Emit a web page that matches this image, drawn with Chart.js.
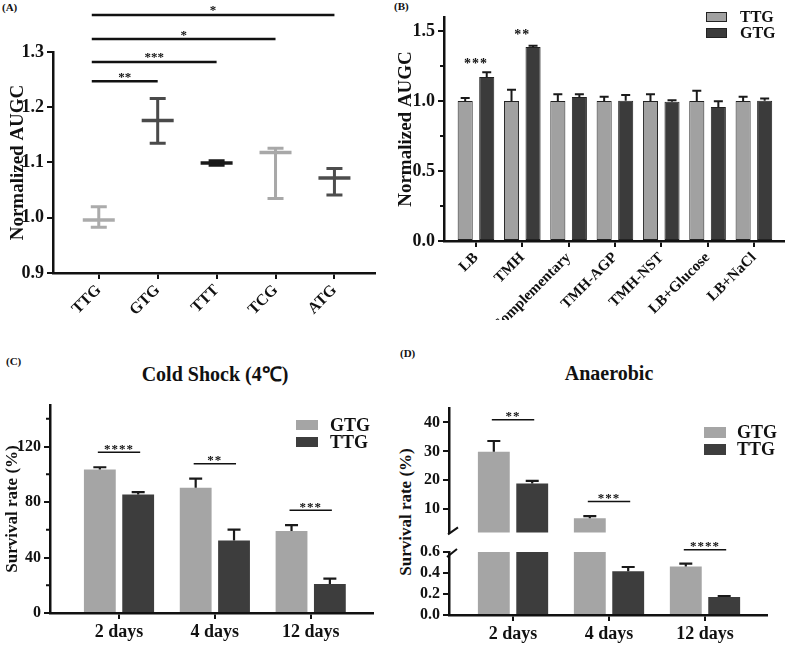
<!DOCTYPE html>
<html>
<head>
<meta charset="utf-8">
<title>AUGC and survival</title>
<script src="https://cdn.jsdelivr.net/npm/chart.js@4.4.1/dist/chart.umd.min.js"></script>
<style>
  body { margin: 0; background: #fff; }
  #page { position: relative; width: 788px; height: 648px; overflow: hidden;
          font-family: 'Liberation Serif', 'Times New Roman', serif; font-weight: bold; color: #111; }
  #page canvas { position: absolute; }
  .tag { position: absolute; font-size: 11px; }
  .head { position: absolute; font-size: 20px; transform: translate(-50%, -50%); white-space: nowrap; }
  .side { position: absolute; font-size: 17px; transform: translate(-50%, -50%) rotate(-90deg); white-space: nowrap; }
</style>
</head>
<body>
<div id="page">
  <div class="tag" style="left:2px;top:1px">(A)</div>
  <div class="tag" style="left:394px;top:0px">(B)</div>
  <div class="tag" style="left:6px;top:355px">(C)</div>
  <div class="tag" style="left:400px;top:347px">(D)</div>
  <div class="head" style="left:215px;top:373px">Cold Shock (4℃)</div>
  <div class="head" style="left:609px;top:373px">Anaerobic</div>
  <div class="side" style="left:406px;top:512px">Survival rate (%)</div>

  <canvas id="chartA" width="394" height="320" style="left:0;top:0"></canvas>
  <canvas id="chartB" width="394" height="320" style="left:394px;top:0"></canvas>
  <canvas id="chartC" width="394" height="308" style="left:0;top:340px"></canvas>
  <canvas id="chartDup" width="394" height="205" style="left:394px;top:340px"></canvas>
  <canvas id="chartDlow" width="394" height="118" style="left:394px;top:530px"></canvas>
</div>
<script>
// ---------- data ----------
// (A) start codons, mean with range
var codonsA = ['TTG', 'GTG', 'TTT', 'TCG', 'ATG'];
var meanA = [0.996, 1.176, 1.099, 1.118, 1.072];
var lowA = [0.983, 1.135, 1.095, 1.035, 1.041];
var highA = [1.020, 1.216, 1.103, 1.126, 1.089];
var ticksA = [0.9, 1.0, 1.1, 1.2, 1.3];
var sigA = [
  { from: 1, to: 2, y: 1.247, text: '**' },
  { from: 1, to: 3, y: 1.282, text: '***' },
  { from: 1, to: 4, y: 1.3235, text: '*' },
  { from: 1, to: 5, y: 1.367, text: '*' }
];

// (B) media
var mediaB = ['LB', 'TMH', 'Complementary', 'TMH-AGP', 'TMH-NST', 'LB+Glucose', 'LB+NaCl'];
var ttgB = [1.0, 1.0, 1.0, 1.0, 1.0, 1.0, 1.0];
var ttgErrB = [0.021, 0.08, 0.048, 0.03, 0.048, 0.074, 0.03];
var gtgB = [1.172, 1.385, 1.029, 1.002, 0.995, 0.957, 1.002];
var gtgErrB = [0.034, 0.01, 0.019, 0.041, 0.01, 0.041, 0.015];
var ticksB = [0, 0.5, 1.0, 1.5];
var sigB = [
  { cat: 1, y: 1.285, text: '***' },
  { cat: 2, y: 1.495, text: '**' }
];

// (C) cold shock
var daysC = ['2 days', '4 days', '12 days'];
var gtgC = [103.4, 90.4, 59.2];
var gtgErrC = [1.7, 6.5, 4.1];
var ttgC = [85.4, 52.2, 20.9];
var ttgErrC = [1.7, 7.9, 3.9];
var ticksC = [0, 40, 80, 120];
var sigC = [
  { cat: 1, y: 115.9, text: '****' },
  { cat: 2, y: 107.7, text: '**' },
  { cat: 3, y: 74.1, text: '***' }
];

// (D) anaerobic, broken axis
var daysD = ['2 days', '4 days', '12 days'];
var gtgD = [29.9, 6.9, 0.463];
var gtgErrD = [3.7, 0.7, 0.026];
var ttgD = [18.9, 0.416, 0.171];
var ttgErrD = [0.9, 0.041, 0.010];
var ticksDup = [10, 20, 30, 40];
var ticksDlow = [0, 0.2, 0.4, 0.6];
var sigDup = [
  { cat: 1, y: 40.9, text: '**' },
  { cat: 2, y: 12.7, text: '***' }
];
var sigDlow = [
  { cat: 3, y: 0.622, text: '****' }
];

// ---------- look ----------
var INK = '#111';
var SERIF = "'Liberation Serif', 'Times New Roman', serif";
var shadeA = ['#ababab', '#4a4a4a', '#1a1a1a', '#a8a8a8', '#4d4d4d'];

Chart.defaults.font.family = SERIF;
Chart.defaults.font.weight = 'bold';
Chart.defaults.color = INK;
Chart.defaults.animation = false;
Chart.defaults.events = [];
Chart.defaults.plugins.legend.display = false;
Chart.defaults.plugins.tooltip.enabled = false;

function pts(vals) {
  return vals.map(function (v, i) { return { x: i + 1, y: v }; });
}
function plus(vals, errs) {
  return vals.map(function (v, i) { return v + errs[i]; });
}
function bold(size) {
  return { family: SERIF, size: size, weight: 'bold' };
}

function yScale(o) {
  return {
    type: 'linear', min: o.min, max: o.max,
    afterFit: function (s) { s.width = o.width; },
    afterBuildTicks: function (s) { s.ticks = o.ticks.map(function (v) { return { value: v }; }); },
    ticks: { font: bold(o.size), color: INK, padding: 3, autoSkip: false,
      callback: function (v) { return o.digits == null ? v : v.toFixed(o.digits); } },
    grid: { drawOnChartArea: false, tickLength: 6, color: INK, lineWidth: 2 },
    border: { color: INK, width: 2.5 },
    title: o.title
      ? { display: true, text: o.title, color: INK, font: bold(o.titleSize), padding: { top: o.titlePad, bottom: 0 } }
      : { display: false }
  };
}

function xScale(o) {
  return {
    type: 'linear', min: o.min, max: o.max, offset: false, display: o.display !== false,
    afterFit: function (s) { s.height = o.height; },
    afterBuildTicks: function (s) { s.ticks = o.labels.map(function (_, i) { return { value: i + 1 }; }); },
    ticks: { font: bold(o.size), color: INK, autoSkip: false, padding: o.pad,
      minRotation: o.rot, maxRotation: o.rot,
      callback: function (v, i) { return o.labels[i]; } },
    grid: { drawOnChartArea: false, offset: false, tickLength: 6, color: INK, lineWidth: 2 },
    border: { color: INK, width: 2.5 }
  };
}

// ---------- plugins ----------
var errorBars = {
  id: 'errorBars',
  afterDatasetsDraw: function (chart, args, o) {
    var ctx = chart.ctx, ys = chart.scales.y;
    ctx.save();
    ctx.lineWidth = o.width || 2;
    chart.data.datasets.forEach(function (ds, di) {
      if (!ds.hi) return;
      chart.getDatasetMeta(di).data.forEach(function (el, i) {
        var v = ds.data[i].y, top = ds.hi[i], bot = ds.lo ? ds.lo[i] : v;
        if (top < ys.min || bot > ys.max) return;
        var yt = ys.getPixelForValue(Math.min(top, ys.max));
        var yb = ys.getPixelForValue(Math.max(bot, ys.min));
        var c = ds.errColor ? (Array.isArray(ds.errColor) ? ds.errColor[i] : ds.errColor) : (o.color || INK);
        var h = (o.cap || 10) / 2;
        ctx.strokeStyle = c;
        ctx.beginPath();
        ctx.moveTo(el.x, yb); ctx.lineTo(el.x, yt);
        if (top <= ys.max) { ctx.moveTo(el.x - h, yt); ctx.lineTo(el.x + h, yt); }
        if (ds.lo && bot >= ys.min) { ctx.moveTo(el.x - h, yb); ctx.lineTo(el.x + h, yb); }
        ctx.stroke();
      });
    });
    ctx.restore();
  }
};

var sigLines = {
  id: 'sigLines',
  afterDraw: function (chart, args, o) {
    if (!o.items) return;
    var ctx = chart.ctx, xs = chart.scales.x, ys = chart.scales.y;
    var m0 = chart.getDatasetMeta(0);
    var m1 = chart.data.datasets.length > 1 ? chart.getDatasetMeta(1) : null;
    ctx.save();
    ctx.strokeStyle = INK; ctx.fillStyle = INK; ctx.lineWidth = o.lw || 1.5;
    ctx.font = 'bold ' + o.size + 'px ' + SERIF;
    ctx.textAlign = 'center'; ctx.textBaseline = 'alphabetic';
    if (o.spacing) ctx.letterSpacing = o.spacing;
    o.items.forEach(function (s) {
      var y = ys.getPixelForValue(s.y), x1, x2;
      if (o.mode === 'span') {
        x1 = xs.getPixelForValue(s.from) - o.lead; x2 = xs.getPixelForValue(s.to);
      } else if (o.mode === 'pair') {
        x1 = m0.data[s.cat - 1].x - o.ext; x2 = m1.data[s.cat - 1].x + o.ext;
      } else {
        x1 = x2 = xs.getPixelForValue(s.cat);
      }
      if (x2 > x1) { ctx.beginPath(); ctx.moveTo(x1, y); ctx.lineTo(x2, y); ctx.stroke(); }
      ctx.fillText(s.text, (x1 + x2) / 2, y - o.off + o.size * 0.5);
    });
    ctx.restore();
  }
};

var minorTicks = {
  id: 'minorTicks',
  afterDraw: function (chart, args, o) {
    if (!o.step) return;
    var ctx = chart.ctx, ys = chart.scales.y, x = chart.chartArea.left;
    var major = ys.ticks.map(function (t) { return t.value; });
    ctx.save(); ctx.strokeStyle = INK; ctx.lineWidth = 2; ctx.beginPath();
    for (var k = 1; ys.min + k * o.step <= ys.max + 1e-9; k++) {
      var v = ys.min + k * o.step;
      if (major.some(function (m) { return Math.abs(m - v) < 1e-9; })) continue;
      var y = ys.getPixelForValue(v);
      ctx.moveTo(x, y); ctx.lineTo(x - o.len, y);
    }
    ctx.stroke(); ctx.restore();
  }
};

var boxLegend = {
  id: 'boxLegend',
  afterDraw: function (chart, args, o) {
    if (o.dx == null) return;
    var ctx = chart.ctx, ca = chart.chartArea;
    ctx.save();
    ctx.font = 'bold ' + o.size + 'px ' + SERIF;
    ctx.textBaseline = 'middle'; ctx.textAlign = 'left';
    chart.data.datasets.forEach(function (ds, i) {
      var x = ca.right + o.dx, y = ca.top + o.dy + i * o.row;
      ctx.fillStyle = ds.backgroundColor;
      ctx.fillRect(x, y, o.w, o.h);
      if (o.border) {
        ctx.strokeStyle = '#222'; ctx.lineWidth = 1;
        ctx.strokeRect(x + 0.5, y + 0.5, o.w - 1, o.h - 1);
      }
      ctx.fillStyle = INK;
      ctx.fillText(ds.label, x + o.w + o.tx, y + o.h / 2 + 1);
    });
    ctx.restore();
  }
};

var breakMark = {
  id: 'breakMark',
  afterDraw: function (chart, args, o) {
    if (!o.edge) return;
    var ctx = chart.ctx, ca = chart.chartArea;
    var y = o.edge === 'bottom' ? ca.bottom : ca.top;
    ctx.save(); ctx.strokeStyle = INK; ctx.lineWidth = 2; ctx.beginPath();
    if (o.edge === 'bottom') { ctx.moveTo(ca.left - 1, y + 2); ctx.lineTo(ca.left + 9, y - 5); }
    else { ctx.moveTo(ca.left - 2, y + 5); ctx.lineTo(ca.left + 8, y - 3); }
    ctx.stroke(); ctx.restore();
  }
};

Chart.register(errorBars, sigLines, minorTicks, boxLegend, breakMark);

// ---------- (A) ----------
new Chart(document.getElementById('chartA'), {
  type: 'scatter',
  data: {
    datasets: [{
      data: pts(meanA),
      hi: highA, lo: lowA, errColor: shadeA,
      pointStyle: 'line', pointRadius: 16, pointBorderWidth: 3.5,
      pointBorderColor: shadeA, pointBackgroundColor: shadeA
    }]
  },
  options: {
    responsive: false,
    layout: { padding: { left: 0, top: 52, right: 4, bottom: 0 } },
    scales: {
      x: xScale({ labels: codonsA, min: 0.223, max: 5.68, height: 47, size: 16, rot: 45, pad: 2 }),
      y: yScale({ min: 0.9, max: 1.3, ticks: ticksA, digits: 1, width: 53, size: 18,
                  title: 'Normalized AUGC', titleSize: 19, titlePad: 7 })
    },
    plugins: {
      errorBars: { cap: 16, width: 3 },
      sigLines: { items: sigA, mode: 'span', lead: 7, lw: 2.5, size: 13, off: 7 }
    }
  }
});

// ---------- (B) ----------
new Chart(document.getElementById('chartB'), {
  type: 'bar',
  data: {
    datasets: [
      { label: 'TTG', data: pts(ttgB), hi: plus(ttgB, ttgErrB),
        backgroundColor: '#a1a1a1', borderColor: '#222', borderWidth: 1, borderSkipped: false },
      { label: 'GTG', data: pts(gtgB), hi: plus(gtgB, gtgErrB),
        backgroundColor: '#3b3b3b', borderColor: '#222', borderWidth: 1, borderSkipped: false }
    ]
  },
  options: {
    responsive: false,
    datasets: { bar: { categoryPercentage: 0.93, barPercentage: 0.70, clip: 0 } },
    layout: { padding: { left: 0, top: 17, right: 4, bottom: 0 } },
    scales: {
      x: xScale({ labels: mediaB, min: 0.31, max: 7.65, height: 79, size: 15, rot: 45, pad: 2 }),
      y: yScale({ min: 0, max: 1.6, ticks: ticksB, digits: 1, width: 50, size: 18,
                  title: 'Normalized AUGC', titleSize: 19, titlePad: 1 })
    },
    plugins: {
      errorBars: { cap: 9, width: 2, color: '#1a1a1a' },
      sigLines: { items: sigB, mode: 'label', size: 14, off: 0, spacing: '1px' },
      minorTicks: { step: 0.25, len: 4 },
      boxLegend: { dx: -78, dy: -5, w: 21, h: 10, row: 16, tx: 13, size: 16, border: true }
    }
  }
});

// ---------- (C) ----------
new Chart(document.getElementById('chartC'), {
  type: 'bar',
  data: {
    datasets: [
      { label: 'GTG', data: pts(gtgC), hi: plus(gtgC, gtgErrC), backgroundColor: '#a5a5a5' },
      { label: 'TTG', data: pts(ttgC), hi: plus(ttgC, ttgErrC), backgroundColor: '#3d3d3d' }
    ]
  },
  options: {
    responsive: false,
    datasets: { bar: { categoryPercentage: 0.8, barPercentage: 0.83, clip: 0 } },
    layout: { padding: { left: 0, top: 65, right: 21, bottom: 0 } },
    scales: {
      x: xScale({ labels: daysC, min: 0.28, max: 3.65, height: 35, size: 18, rot: 0, pad: 3 }),
      y: yScale({ min: 0, max: 150, ticks: ticksC, width: 50, size: 16,
                  title: 'Survival rate (%)', titleSize: 17, titlePad: 2 })
    },
    plugins: {
      errorBars: { cap: 13, width: 2.2, color: '#1a1a1a' },
      sigLines: { items: sigC, mode: 'pair', ext: 2, lw: 1.5, size: 13, off: 6, spacing: '1px' },
      minorTicks: { step: 20, len: 4 },
      boxLegend: { dx: -77, dy: 15, w: 22, h: 10, row: 17, tx: 12, size: 18 }
    }
  }
});

// ---------- (D) upper segment ----------
new Chart(document.getElementById('chartDup'), {
  type: 'bar',
  data: {
    datasets: [
      { label: 'GTG', data: pts(gtgD), hi: plus(gtgD, gtgErrD), backgroundColor: '#a5a5a5' },
      { label: 'TTG', data: pts(ttgD), hi: plus(ttgD, ttgErrD), backgroundColor: '#3d3d3d' }
    ]
  },
  options: {
    responsive: false,
    datasets: { bar: { categoryPercentage: 0.8, barPercentage: 0.83, clip: 0 } },
    layout: { padding: { left: 0, top: 68, right: 21, bottom: 8 } },
    scales: {
      x: xScale({ labels: daysD, min: 0.333, max: 3.646, height: 0, size: 18, rot: 0, pad: 3, display: false }),
      y: yScale({ min: 2, max: 45, ticks: ticksDup, width: 55, size: 16 })
    },
    plugins: {
      errorBars: { cap: 13, width: 2.2, color: '#1a1a1a' },
      sigLines: { items: sigDup, mode: 'pair', ext: 2, lw: 1.5, size: 13, off: 6, spacing: '1px' },
      boxLegend: { dx: -63, dy: 19, w: 22, h: 11, row: 17, tx: 11, size: 18 },
      breakMark: { edge: 'bottom' }
    }
  }
});

// ---------- (D) lower segment ----------
new Chart(document.getElementById('chartDlow'), {
  type: 'bar',
  data: {
    datasets: [
      { label: 'GTG', data: pts(gtgD), hi: plus(gtgD, gtgErrD), backgroundColor: '#a5a5a5' },
      { label: 'TTG', data: pts(ttgD), hi: plus(ttgD, ttgErrD), backgroundColor: '#3d3d3d' }
    ]
  },
  options: {
    responsive: false,
    datasets: { bar: { categoryPercentage: 0.8, barPercentage: 0.83, clip: 0 } },
    layout: { padding: { left: 0, top: 22, right: 21, bottom: 0 } },
    scales: {
      x: xScale({ labels: daysD, min: 0.333, max: 3.646, height: 33, size: 18, rot: 0, pad: 3 }),
      y: yScale({ min: 0, max: 0.6, ticks: ticksDlow, digits: 1, width: 55, size: 16 })
    },
    plugins: {
      errorBars: { cap: 13, width: 2.2, color: '#1a1a1a' },
      sigLines: { items: sigDlow, mode: 'pair', ext: 2, lw: 1.5, size: 13, off: 6, spacing: '1px' },
      breakMark: { edge: 'top' }
    }
  }
});
</script>
</body>
</html>
